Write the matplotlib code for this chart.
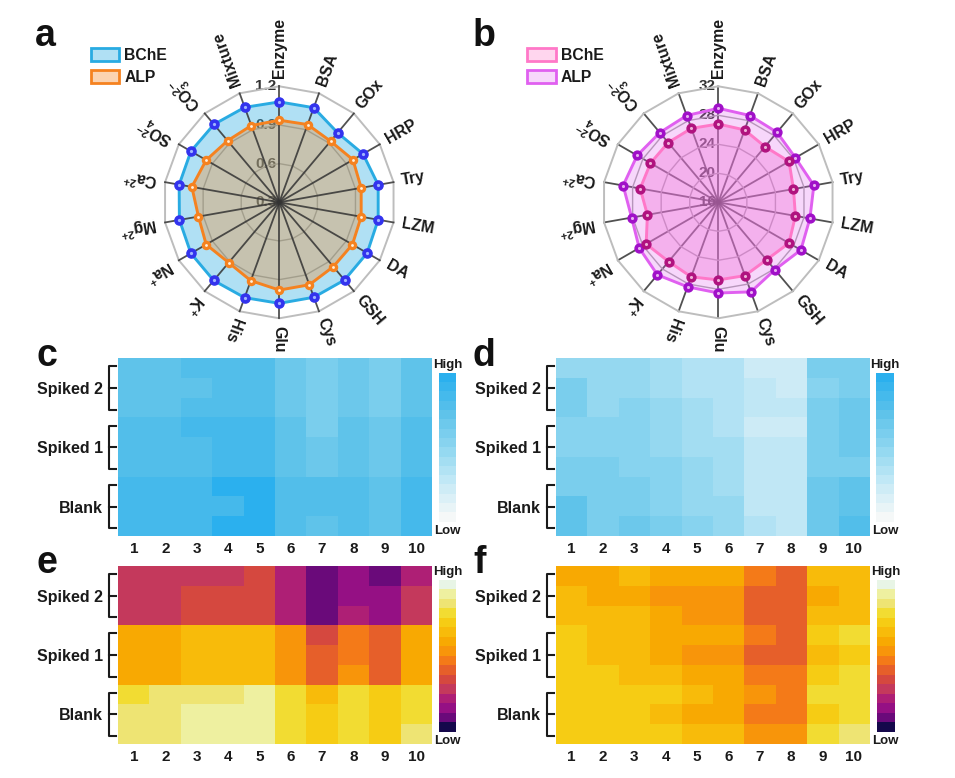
import numpy as np
import matplotlib
matplotlib.use('Agg')
import matplotlib.pyplot as plt
from matplotlib.colors import ListedColormap, LinearSegmentedColormap, to_rgba
from matplotlib.patches import Patch

plt.rcParams['font.family'] = ['Liberation Sans', 'DejaVu Sans']
plt.rcParams['font.weight'] = 'bold'
plt.rcParams['mathtext.fontset'] = 'custom'
plt.rcParams['mathtext.rm'] = 'Liberation Sans:bold'
plt.rcParams['mathtext.default'] = 'rm'

W, H = 955, 778

analytes = ['Enzyme', 'BSA', 'GOx', 'HRP', 'Try', 'LZM', 'DA', 'GSH', 'Cys', 'Glu', 'His',
            'K$^{{+}}$', 'Na$^{{+}}$', 'Mg$^{2{+}}$', 'Ca$^{2{+}}$', 'SO$_4^{2{-}}$', 'CO$_3^{2{-}}$', 'Mixture']

# panel a, radar values
a_bche = [1.079, 1.081, 1.004, 1.050, 1.079, 1.079, 1.087, 1.087, 1.084,
          1.084, 1.087, 1.092, 1.092, 1.087, 1.089, 1.092, 1.089, 1.084]
a_alp = [0.937, 0.942, 0.919, 0.960, 0.945, 0.945, 0.955, 0.952, 0.981,
         0.981, 0.947, 0.911, 0.955, 0.937, 0.989, 0.955, 0.924, 0.934]
a_ticks = [0.3, 0.6, 0.9, 1.2]

# panel b, radar values
b_alp = [28.97, 28.74, 28.60, 28.28, 29.38, 28.83, 29.15, 28.14, 29.15,
         28.51, 28.41, 29.06, 28.60, 28.14, 29.33, 28.92, 28.55, 28.74]
b_bche = [26.80, 26.62, 26.02, 27.26, 26.53, 26.80, 27.26, 26.35, 26.76,
          26.71, 26.94, 26.67, 27.49, 25.93, 26.94, 26.80, 26.76, 26.85]
b_ticks = [16, 20, 24, 28, 32]

groups = ['Spiked 2', 'Spiked 1', 'Blank']
columns = [1, 2, 3, 4, 5, 6, 7, 8, 9, 10]

# heatmaps, values are colour bar levels 0-15, rows top to bottom
c_levels = [
    [11, 11, 12, 12, 12, 10, 9, 10, 9, 11],
    [11, 11, 11, 12, 12, 10, 9, 10, 9, 11],
    [11, 11, 12, 12, 12, 10, 9, 10, 9, 11],
    [12, 12, 13, 13, 13, 11, 9, 11, 10, 12],
    [12, 12, 12, 13, 13, 11, 10, 11, 10, 12],
    [12, 12, 12, 13, 13, 11, 10, 11, 10, 12],
    [13, 13, 13, 15, 15, 12, 12, 12, 11, 13],
    [13, 13, 13, 13, 15, 12, 12, 12, 11, 13],
    [13, 13, 13, 15, 15, 12, 11, 12, 11, 13],
]
d_levels = [
    [7, 7, 7, 6, 5, 5, 3, 3, 9, 9],
    [9, 7, 7, 6, 5, 5, 4, 3, 8, 9],
    [9, 7, 8, 7, 6, 5, 4, 4, 9, 10],
    [8, 8, 8, 7, 6, 5, 3, 3, 9, 10],
    [8, 8, 8, 7, 6, 6, 4, 4, 9, 10],
    [9, 9, 8, 8, 7, 6, 4, 4, 9, 9],
    [9, 9, 9, 8, 7, 6, 4, 4, 10, 11],
    [11, 9, 9, 8, 7, 7, 4, 4, 10, 11],
    [11, 9, 10, 9, 8, 7, 5, 4, 10, 12],
]
e_levels = [
    [4, 4, 4, 4, 5, 3, 1, 2, 1, 3],
    [4, 4, 5, 5, 5, 3, 1, 2, 2, 4],
    [4, 4, 5, 5, 5, 3, 1, 3, 2, 4],
    [9, 9, 10, 10, 10, 8, 5, 7, 6, 9],
    [9, 9, 10, 10, 10, 8, 6, 7, 6, 9],
    [9, 9, 10, 10, 10, 8, 6, 8, 6, 9],
    [12, 13, 13, 13, 14, 12, 10, 12, 11, 12],
    [13, 13, 14, 14, 14, 12, 11, 12, 11, 12],
    [13, 13, 14, 14, 14, 12, 11, 12, 11, 13],
]
f_levels = [
    [9, 9, 10, 9, 9, 9, 7, 6, 10, 10],
    [10, 9, 9, 8, 8, 8, 6, 6, 9, 10],
    [10, 10, 10, 9, 8, 8, 6, 6, 10, 10],
    [11, 10, 10, 9, 9, 9, 7, 6, 11, 12],
    [11, 10, 10, 9, 8, 8, 6, 6, 10, 11],
    [11, 11, 10, 10, 9, 9, 7, 7, 11, 12],
    [11, 11, 11, 11, 10, 9, 8, 7, 12, 12],
    [11, 11, 11, 10, 9, 9, 7, 7, 11, 12],
    [11, 11, 11, 11, 10, 10, 8, 8, 12, 13],
]

blue_cmap = LinearSegmentedColormap.from_list('blues16', ['#f5f8f8', '#c4e9f6', '#8ed6f0', '#5cc2ea', '#2bb0ee'], 16)
fire_cmap = ListedColormap(['#15084b', '#6a0a7a', '#951084', '#ae1f75', '#c4395c', '#d5483f', '#e65f2a', '#f47a18',
                            '#f8950a', '#f8a902', '#f8bb0a', '#f6cc14', '#f2dc32', '#eee473', '#eef0a0', '#e8f5e6'])


def px_rect(x0, y0, x1, y1):
    return [x0 / W, 1 - y1 / H, (x1 - x0) / W, (y1 - y0) / H]


def radar(cx, cy, ticks, series, spoke_z):
    ax = fig.add_axes(px_rect(cx - 116, cy - 116, cx + 116, cy + 116), projection='polar')
    ax.set_theta_zero_location('N')
    ax.set_theta_direction(-1)
    ax.set_rlim(ticks[0], ticks[-1])
    ax.axis('off')
    theta = np.deg2rad(np.arange(len(analytes)) * 20.0)
    closed = np.append(theta, theta[0])
    rmin, rmax = ticks[0], ticks[-1]
    for t in theta:
        ax.plot([t, t], [rmin, rmax], color='#333333', lw=1.3, alpha=0.85, zorder=spoke_z, clip_on=False)
    for v in ticks[1:]:
        lw = 1.4 if v == rmax else 1.0
        c = '#bdbdbd' if v == rmax else '#a9a9a9'
        ax.plot(closed, [v] * len(closed), color=c, lw=lw, zorder=1, clip_on=False)
    for v in ticks:
        ax.annotate(str(v), xy=(0, v), xytext=(-2, 0), textcoords='offset points', ha='right', va='center',
                    fontsize=11, color='#333333', zorder=0.5)
    # series filled first, then the line and the ball markers
    for vals, line, fill, alpha, ball, glow, size in series:
        r = np.append(vals, vals[0])
        ax.fill(closed, r, color=fill, alpha=alpha, lw=0, zorder=2)
        ax.plot(closed, r, color=line, lw=2.1, zorder=3, clip_on=False)
    for vals, line, fill, alpha, ball, glow, size in series:
        ax.plot(theta, vals, ls='none', marker='o', ms=size, mfc=ball, mec=ball, zorder=4, clip_on=False)
        ax.plot(theta, vals, ls='none', marker='o', ms=size * 0.35, mfc=glow, mec='none', zorder=5, clip_on=False)
    for i, name in enumerate(analytes):
        ang = 90 - 20 * i
        ax.text(theta[i], rmin + (rmax - rmin) * 1.07, name, rotation=ang, rotation_mode='anchor',
                ha='left', va='center', fontsize=11.4, color='#1a1a1a')
    return ax


def heatmap(x0, y0, levels, cmap, cbar_x0, cbar_x1, cbar_y0, cbar_y1):
    ax = fig.add_axes(px_rect(x0, y0, x0 + 313.4, y0 + 178))
    im = ax.imshow(levels, cmap=cmap, vmin=-0.5, vmax=15.5, aspect='auto', interpolation='nearest')
    ax.set_xticks(range(len(columns)), columns, fontsize=11)
    ax.set_yticks([1, 4, 7], groups, fontsize=11.5)
    ax.tick_params(axis='x', length=0, pad=4, labelcolor='#1a1a1a')
    ax.tick_params(axis='y', length=0, pad=11, labelcolor='#1a1a1a')
    for s in ax.spines.values():
        s.set_visible(False)
    # bracket for each group of three rows
    tr = ax.get_yaxis_transform()
    for c in [1, 4, 7]:
        ax.plot([-0.0073, -0.0297, -0.0297, -0.0073], [c - 1.09, c - 1.09, c + 1.09, c + 1.09],
                transform=tr, color='#1a1a1a', lw=1.5, clip_on=False)
        ax.plot([-0.0297, -0.0073], [c, c], transform=tr, color='#1a1a1a', lw=1.5, clip_on=False)
    cax = fig.add_axes(px_rect(cbar_x0, cbar_y0, cbar_x1, cbar_y1))
    cb = fig.colorbar(im, cax=cax, ticks=[])
    cb.outline.set_visible(False)
    xc = (cbar_x0 + cbar_x1) / 2
    fig.text(xc / W, 1 - (cbar_y0 - 8) / H, 'High', ha='center', va='center', fontsize=9.5, color='#1a1a1a')
    fig.text(xc / W, 1 - (cbar_y1 + 9) / H, 'Low', ha='center', va='center', fontsize=9.5, color='#1a1a1a')
    return ax


def legend(x, y, colors):
    handles = [Patch(facecolor=to_rgba(fc, al), edgecolor=ec, lw=2) for ec, fc, al in colors]
    fig.legend(handles, ['BChE', 'ALP'], loc='upper left', bbox_to_anchor=(x / W, 1 - y / H), frameon=False,
               fontsize=11.3, borderpad=0, borderaxespad=0, handlelength=1.8, handleheight=0.9,
               handletextpad=0.35, labelspacing=0.5, labelcolor='#1a1a1a')


fig = plt.figure(figsize=(W / 100, H / 100), dpi=100)

radar(279.3, 202.3, a_ticks, [
    (a_bche, '#29abe2', '#29abe2', 0.37, '#3333ee', '#9fb4ff', 6.6),
    (a_alp, '#f58220', '#f08a30', 0.35, '#f58220', '#fff0dc', 5.8),
], 2.5)
radar(718.3, 202.3, b_ticks, [
    (b_alp, '#e060f0', '#e060f0', 0.25, '#a010c8', '#e8b0f0', 6.4),
    (b_bche, '#ff78c8', '#f078d8', 0.40, '#b0127f', '#eeb0d8', 6.4),
], 1)

legend(90.7, 47.5, [('#29abe2', '#29abe2', 0.37), ('#f58220', '#f58220', 0.35)])
legend(527.3, 47.5, [('#ff78c8', '#ff78c8', 0.3), ('#e060f0', '#e060f0', 0.25)])

heatmap(118.3, 358.3, c_levels, blue_cmap, 439, 455.7, 372.7, 521.7)
heatmap(556, 358.3, d_levels, blue_cmap, 875.7, 894, 372.7, 521.7)
heatmap(118.3, 566, e_levels, fire_cmap, 439, 455.7, 580, 731.7)
heatmap(556, 566, f_levels, fire_cmap, 876.7, 894.7, 580, 731.7)

for letter, x, y in [('a', 35, 46), ('b', 473, 46), ('c', 36, 366), ('d', 472, 366), ('e', 36, 573), ('f', 473, 573)]:
    fig.text(x / W, 1 - y / H, letter, fontsize=27, va='baseline', ha='left', color='#111111')

fig.savefig('out.png', dpi=100)
